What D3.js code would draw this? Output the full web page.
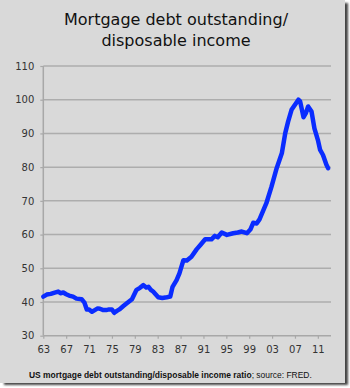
<!DOCTYPE html>
<html>
<head>
<meta charset="utf-8">
<script src="https://cdn.jsdelivr.net/npm/d3@7"></script>
<style>
  body { margin: 0; background: #fff; }
  svg { display: block; }
</style>
</head>
<body>
<div id="chart"></div>
<script>
// values (year as decimal, ratio in %)
var years = [1963.0, 1963.6, 1964.3, 1965.0, 1965.6, 1966.0, 1966.5, 1967.0, 1967.5, 1968.2,
  1968.8, 1969.7, 1970.2, 1970.6, 1971.0, 1971.5, 1972.0, 1972.5, 1972.9, 1973.5,
  1974.0, 1974.5, 1975.0, 1975.4, 1975.8, 1976.3, 1977.0, 1977.6, 1978.5, 1979.3,
  1979.9, 1980.5, 1981.0, 1981.4, 1981.8, 1982.2, 1983.1, 1983.8, 1984.6, 1985.2,
  1985.6, 1986.3, 1986.8, 1987.5, 1988.1, 1988.9, 1989.8, 1990.5, 1991.3, 1992.4,
  1993.0, 1993.5, 1994.2, 1995.1, 1996.2, 1997.0, 1997.7, 1998.6, 1999.2, 1999.7,
  2000.3, 2000.8, 2001.5, 2002.0, 2002.9, 2003.8, 2004.7, 2005.3, 2005.8, 2006.4,
  2007.0, 2007.6, 2007.9, 2008.5, 2008.9, 2009.3, 2009.9, 2010.4, 2011.0, 2011.4,
  2011.9, 2012.5, 2012.8];
var ratio = [41.6, 42.2, 42.4, 42.8, 43.1, 42.6, 42.8, 42.3, 41.9, 41.6,
  41.0, 40.8, 39.8, 37.8, 37.8, 37.1, 37.6, 38.1, 38.0, 37.6,
  37.6, 37.8, 37.8, 36.8, 37.3, 37.8, 38.8, 39.6, 40.8, 43.6,
  44.2, 45.0, 44.3, 44.5, 43.6, 43.1, 41.4, 41.2, 41.4, 41.6,
  44.5, 46.5, 48.5, 52.4, 52.3, 53.4, 55.6, 57.0, 58.6, 58.6,
  59.6, 59.2, 60.6, 59.9, 60.4, 60.6, 60.9, 60.4, 61.5, 63.5,
  63.3, 64.5, 67.3, 69.3, 74.2, 79.7, 84.1, 90.1, 93.5, 97.0,
  98.5, 100.0, 99.5, 94.8, 96.0, 98.0, 96.5, 91.5, 88.1, 85.1,
  83.6, 80.7, 79.7];
var xTicks = [1963, 1967, 1971, 1975, 1979, 1983, 1987, 1991, 1995, 1999, 2003, 2007, 2011];
var yTicks = [30, 40, 50, 60, 70, 80, 90, 100, 110];
var titleLines = ["Mortgage debt outstanding/", "disposable income"];

var svgWidth = 350;
var svgHeight = 388;
var margin = {top: 66, right: 19, bottom: 52.3, left: 43.3};
var width = svgWidth - margin.left - margin.right;
var height = svgHeight - margin.top - margin.bottom;

var svg = d3.select("#chart")
  .append("svg")
  .attr("width", svgWidth)
  .attr("height", svgHeight);

var defs = svg.append("defs");
defs.append("filter").attr("id", "shadow")
  .append("feGaussianBlur").attr("stdDeviation", 1.3);

// panel + drop shadow
svg.append("rect")
  .attr("x", 4).attr("y", 3)
  .attr("width", 344).attr("height", 382)
  .attr("fill", "#444")
  .attr("filter", "url(#shadow)");
svg.append("rect")
  .attr("x", 0).attr("y", 0)
  .attr("width", 345).attr("height", 383)
  .attr("fill", "#d9d9d9");

// title
svg.append("text")
  .attr("x", 176)
  .attr("text-anchor", "middle")
  .style("font-family", "'DejaVu Sans', sans-serif")
  .style("font-size", "16px")
  .attr("fill", "#111")
  .selectAll("tspan")
  .data(titleLines)
  .enter().append("tspan")
  .attr("x", 176)
  .attr("y", (d, i) => 25 + i * 20.5)
  .text(d => d);

var chartGroup = svg.append("g")
  .attr("transform", `translate(${margin.left},${margin.top})`);

var xScale = d3.scaleLinear().domain([1963, 2013.3]).range([0, width]);
var yScale = d3.scaleLinear().domain([30, 110]).range([height, 0]);

// gridlines
chartGroup.append("g")
  .selectAll("line")
  .data(yTicks.slice(1))
  .enter().append("line")
  .attr("x1", 0).attr("x2", width)
  .attr("y1", d => yScale(d)).attr("y2", d => yScale(d))
  .attr("stroke", "#adadad")
  .attr("stroke-width", 1.5);

// y axis
var leftAxis = d3.axisLeft(yScale).tickValues(yTicks).tickSize(3).tickPadding(6);
var yAxis = chartGroup.append("g").call(leftAxis);

// x axis
var bottomAxis = d3.axisBottom(xScale)
  .tickValues(xTicks)
  .tickSize(3)
  .tickPadding(7)
  .tickFormat(d => String(d % 100).padStart(2, "0"));
var xAxis = chartGroup.append("g")
  .attr("transform", `translate(0,${height})`)
  .call(bottomAxis);

[xAxis, yAxis].forEach(function(ax) {
  ax.select(".domain").attr("stroke", "#a8a8a8").attr("stroke-width", 1.5);
  ax.selectAll(".tick line").attr("stroke", "#a8a8a8").attr("stroke-width", 1.2);
  ax.selectAll("text")
    .style("font-family", "'DejaVu Sans', sans-serif")
    .style("font-size", "10px")
    .attr("fill", "#333");
});
yAxis.select(".domain").attr("d", `M0,${height}V0`);
xAxis.select(".domain").attr("d", `M0,0H${width}`);

// the line
var line = d3.line()
  .x((d, i) => xScale(years[i]))
  .y(d => yScale(d));

chartGroup.append("path")
  .datum(ratio)
  .attr("d", line)
  .attr("fill", "none")
  .attr("stroke", "#0a2cff")
  .attr("stroke-width", 4.5)
  .attr("stroke-linejoin", "round")
  .attr("stroke-linecap", "round");

// caption, shrunk to span the same width as in the picture
var caption = svg.append("text")
  .attr("x", 29)
  .attr("y", 378)
  .style("font-family", "'Liberation Sans', Arial, sans-serif")
  .style("font-size", "9px")
  .attr("fill", "#111");
caption.append("tspan").style("font-weight", "bold")
  .text("US mortgage debt outstanding/disposable income ratio");
caption.append("tspan").text("; source: FRED.");
var capLen = caption.node().getComputedTextLength();
caption.style("font-size", (9 * 283 / capLen).toFixed(2) + "px");
</script>
</body>
</html>
